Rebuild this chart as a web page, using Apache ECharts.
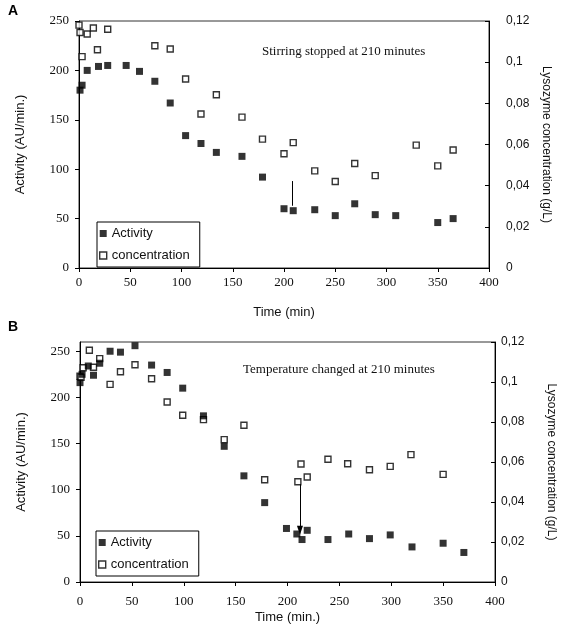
<!DOCTYPE html>
<html><head><meta charset="utf-8">
<script src="https://cdn.jsdelivr.net/npm/echarts@6/dist/echarts.min.js"></script>
<style>html,body{margin:0;padding:0;background:#fff}#c{width:565px;height:629px}</style>
</head><body><div id="c"></div>
<script>
// Panel A
const timeA_act = [1,3,8,19,28,46,59,74,89,104,119,134,159,179,200,209,230,250,269,289,309,350,365];
const actA      = [180,185,200,204,205,205,199,189,167,134,126,117,113,92,60,58,59,53,65,54,53,46,50];
const timeA_conc = [0,1,3,8,14,18,28,74,89,104,119,134,159,179,200,209,230,250,269,289,329,350,365];
const concA      = [0.118,0.1144,0.1027,0.1137,0.1166,0.106,0.116,0.108,0.1064,0.0918,0.0748,0.0842,0.0733,0.0626,0.0555,0.0609,0.0472,0.042,0.0508,0.0449,0.0597,0.0496,0.0573];
const arrowA = [208, 88, 63];
// Panel B
const timeB_act = [0,2,8,13,19,29,39,53,69,84,99,119,139,158,178,199,209,214,219,239,259,279,299,320,350,370];
const actB      = [216,225,234,224,237,250,249,256,235,227,210,180,147,115,86,58,52,46,56,46,52,47,51,38,42,32];
const timeB_conc = [0,1,3,9,13,19,29,39,53,69,84,99,119,139,158,178,210,213,219,239,258,279,299,319,350];
const concB      = [0.1029,0.1023,0.1071,0.1159,0.1074,0.1117,0.0988,0.1051,0.1086,0.1016,0.09,0.0834,0.0812,0.0712,0.0784,0.0511,0.0501,0.059,0.0525,0.0614,0.0591,0.0561,0.0578,0.0637,0.0538];
const arrowB = [212, 106, 56];
const xTicks = [0,50,100,150,200,250,300,350,400];
const annA = 'Stirring stopped at 210 minutes';
const annB = 'Temperature changed at 210 minutes';

const zip = (a,b) => a.map((v,i)=>[v,b[i]]);
const serif = '"Liberation Serif", "Times New Roman", serif';
const sans = '"Liberation Sans", Arial, sans-serif';
const fmtC = v => v===0 ? '0' : String(+v.toFixed(2)).replace('.', ',');

function xAx(gi, name, gap, margin){
  return {type:'value', gridIndex:gi, min:xTicks[0], max:xTicks[xTicks.length-1], interval:50,
    name:name, nameLocation:'middle', nameGap:gap, nameTextStyle:{fontFamily:sans, fontSize:13, color:'#111'},
    axisLine:{lineStyle:{color:'#000', width:1}}, axisTick:{inside:false, length:4, lineStyle:{color:'#000'}},
    axisLabel:{fontFamily:serif, fontSize:13, color:'#111', margin:margin}, splitLine:{show:false}};
}
function yLeft(gi, max, gap){
  return {type:'value', gridIndex:gi, min:0, max:max, interval:50, position:'left',
    name:'Activity (AU/min.)', nameLocation:'middle', nameGap:gap, nameRotate:90,
    nameTextStyle:{fontFamily:sans, fontSize:13, color:'#111'},
    axisLine:{show:true, lineStyle:{color:'#000'}}, axisTick:{show:true, length:4, lineStyle:{color:'#000'}},
    axisLabel:{fontFamily:serif, fontSize:13, color:'#111', margin:10, showMaxLabel: max===250},
    splitLine:{show:false}};
}
function yRight(gi, gap, margin){
  return {type:'value', gridIndex:gi, min:0, max:0.12, interval:0.02, position:'right',
    name:'Lysozyme concentration (g/L)', nameLocation:'middle', nameGap:gap, nameRotate:-90,
    nameTextStyle:{fontFamily:sans, fontSize:12, color:'#111'},
    axisLine:{show:true, lineStyle:{color:'#000'}}, axisTick:{show:true, length:4, inside:true, lineStyle:{color:'#000'}},
    axisLabel:{fontFamily:sans, fontSize:12, color:'#111', margin:margin, formatter:fmtC},
    splitLine:{show:false}};
}
const filled = {color:'#000'};
const hollow = {color:'#fff', borderColor:'#000', borderWidth:1.4};
function legend(left, top){
  return {left:left, top:top, orient:'vertical', selectedMode:false, itemWidth:7, itemHeight:7, itemGap:7,
    padding:[4,10,4,2], borderColor:'#000', borderWidth:1, backgroundColor:'#fff',
    textStyle:{fontFamily:sans, fontSize:13, color:'#111', lineHeight:15},
    data:[{name:'Activity', icon:'rect', itemStyle:filled},
          {name:'concentration', icon:'rect', itemStyle:hollow}]};
}
const option = {
  animation:false,
  grid:[{left:79, right:76, top:21, bottom:361, show:true, borderColor:'#333', borderWidth:1},
        {left:80, right:63, top:342, bottom:47, show:true, borderColor:'#333', borderWidth:1}],
  xAxis:[xAx(0,'Time (min)',38,8), xAx(1,'Time (min.)',29,13)],
  yAxis:[yLeft(0,250,52), yRight(0,39,17), yLeft(1,260,52), yRight(1,50,6)],
  legend:[legend(97,222), legend(96,531)],
  graphic:[
    {type:'text', left:8, top:4, style:{text:'A', font:'bold 14px '+sans, fill:'#000'}},
    {type:'text', left:8, top:320, style:{text:'B', font:'bold 14px '+sans, fill:'#000'}},
    {type:'text', left:262, top:45, style:{text:annA, font:'13px '+serif, fill:'#111'}},
    {type:'text', left:243, top:363, style:{text:annB, font:'13px '+serif, fill:'#111'}}
  ],
  series:[
    {name:'concentration', type:'scatter', xAxisIndex:0, yAxisIndex:1, symbol:'rect', symbolSize:6, itemStyle:hollow, data:zip(timeA_conc, concA)},
    {name:'Activity', type:'scatter', xAxisIndex:0, yAxisIndex:0, symbol:'rect', symbolSize:7, itemStyle:filled, data:zip(timeA_act, actA),
     markLine:{silent:true, symbol:['none','none'], label:{show:false}, lineStyle:{color:'#000', width:1, type:'solid'},
       data:[[{coord:[arrowA[0], arrowA[1]]},{coord:[arrowA[0], arrowA[2]]}]]}},
    {name:'concentration', type:'scatter', xAxisIndex:1, yAxisIndex:3, symbol:'rect', symbolSize:6, itemStyle:hollow, data:zip(timeB_conc, concB)},
    {name:'Activity', type:'scatter', xAxisIndex:1, yAxisIndex:2, symbol:'rect', symbolSize:7, itemStyle:filled, data:zip(timeB_act, actB),
     markLine:{silent:true, symbol:['none','triangle'], symbolSize:[6,9], label:{show:false}, lineStyle:{color:'#000', width:1, type:'solid'},
       data:[[{coord:[arrowB[0], arrowB[1]]},{coord:[arrowB[0], arrowB[2]]}]]}}
  ]
};
const chart = echarts.init(document.getElementById('c'), null, {renderer:'canvas'});
chart.setOption(option);
</script></body></html>
